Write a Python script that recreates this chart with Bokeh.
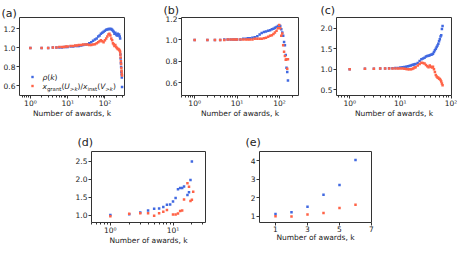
from bokeh.plotting import figure
from bokeh.models import (ColumnDataSource, FixedTicker, Range1d, Label, Title,
                          CustomJSTickFormatter, Legend, LegendItem,
                          NumeralTickFormatter)
from bokeh.layouts import row, column
from bokeh.embed import file_html
from bokeh.resources import INLINE

# ---------------- data ----------------
# panel (a)
k_a = [1, 2, 3, 4, 5, 6, 7, 8, 9, 10, 12, 14, 16, 18, 20, 23, 26, 30, 34, 38,
       43, 48, 54, 60, 66, 72, 78, 85, 92, 100, 108, 116, 124, 132, 140, 148,
       156, 164, 172, 180, 190, 200, 210, 220, 230, 240, 250, 256, 260, 264,
       268, 272, 276, 280, 284, 288]
rho_a = [1.00, 1.00, 1.00, 1.005, 1.005, 1.005, 1.005, 1.01, 1.01, 1.01,
         1.015, 1.015, 1.02, 1.02, 1.02, 1.025, 1.03, 1.035, 1.04, 1.05,
         1.06, 1.075, 1.09, 1.10, 1.12, 1.13, 1.15, 1.16, 1.17, 1.18,
         1.19, 1.195, 1.20, 1.20, 1.20, 1.20, 1.19, 1.18, 1.17, 1.15,
         1.16, 1.14, 1.13, 1.15, 1.13, 1.14, 1.12, 1.10, 0.93, 0.89,
         0.84, 0.80, 0.75, 0.72, 0.69, 0.59]
ratio_a = [1.00, 1.00, 1.00, 1.005, 1.005, 1.01, 1.01, 1.01, 1.015, 1.015,
           1.02, 1.02, 1.025, 1.025, 1.03, 1.03, 1.035, 1.035, 1.035, 1.03,
           1.03, 1.035, 1.04, 1.05, 1.06, 1.07, 1.08, 1.07, 1.06, 1.08,
           1.10, 1.12, 1.14, 1.15, 1.13, 1.10, 1.08, 1.05, 1.04, 1.02,
           1.03, 1.01, 1.00, 0.99, 0.99, 0.98, 0.97, 0.96, 0.93, 0.90,
           0.86, 0.83, 0.79, 0.76, 0.73, 0.71]

# panel (b)
k_b = [1, 2, 3, 4, 5, 6, 7, 8, 9, 10, 12, 14, 16, 18, 20, 23, 26, 30, 34, 38,
       43, 48, 54, 60, 66, 72, 78, 85, 92, 98, 104, 110, 116, 122, 128, 134,
       140, 146, 152, 158]
rho_b = [1.0, 1.0, 1.0, 1.0, 1.005, 1.005, 1.005, 1.005, 1.005, 1.005,
         1.005, 1.01, 1.01, 1.015, 1.015, 1.02, 1.025, 1.035, 1.05, 1.065,
         1.075, 1.08, 1.085, 1.09, 1.10, 1.105, 1.115, 1.12, 1.13, 1.135,
         1.13, 1.10, 1.07, 1.04, 0.98, 0.95, 0.86, 0.74, 0.70, 0.62]
ratio_b = [1.0, 1.0, 1.0, 1.0, 1.0, 1.005, 1.005, 1.005, 1.005, 1.005,
           1.005, 1.005, 1.005, 1.005, 1.005, 1.005, 1.01, 1.01, 1.01, 1.01,
           1.015, 1.02, 1.03, 1.04, 1.045, 1.055, 1.07, 1.085, 1.11, 1.14,
           1.11, 1.04, 1.06, 0.95, 0.89, 0.85, 0.815, 0.82, 0.73, 0.82]

# panel (c)
k_c = [1, 2, 3, 4, 5, 6, 7, 8, 9, 10, 11, 12, 13, 14, 15, 16, 17, 18, 19, 20,
       22, 24, 26, 28, 30, 32, 34, 36, 38, 40, 42, 44, 46, 48, 50, 52, 54, 56,
       58, 60, 62, 64, 66, 68]
rho_c = [1.0, 1.01, 1.01, 1.02, 1.02, 1.025, 1.025, 1.03, 1.03, 1.04,
         1.05, 1.055, 1.06, 1.07, 1.08, 1.09, 1.10, 1.11, 1.12, 1.13,
         1.15, 1.20, 1.24, 1.26, 1.28, 1.31, 1.32, 1.33, 1.34, 1.35,
         1.36, 1.38, 1.42, 1.46, 1.50, 1.54, 1.58, 1.62, 1.68, 1.73,
         1.80, 1.83, 1.98, 2.05]
ratio_c = [1.0, 1.01, 1.01, 1.02, 1.02, 1.02, 1.02, 1.02, 1.02, 1.02,
           1.015, 1.01, 1.005, 1.0, 1.0, 1.0, 1.005, 1.02, 1.04, 1.05,
           1.09, 1.13, 1.16, 1.15, 1.14, 1.10, 1.07, 1.05, 1.09, 1.06,
           1.04, 1.06, 1.0, 0.93, 0.86, 0.82, 0.80, 0.79, 0.77, 0.76,
           0.74, 0.70, 0.65, 0.61]

# panel (d)
k_d_rho = [1, 2, 3, 4, 5, 6, 7, 8, 9, 10, 11, 12, 13, 14, 15, 17, 18, 19, 20]
rho_d = [1.01, 1.03, 1.08, 1.13, 1.18, 1.19, 1.23, 1.29, 1.30, 1.38, 1.48,
         1.72, 1.76, 1.76, 1.80, 1.56, 1.64, 1.98, 2.49]
k_d_ratio = [1, 2, 3, 4, 5, 6, 7, 8, 10, 11, 12, 13, 14, 15, 17, 18, 19, 20, 21]
ratio_d = [0.975, 1.04, 1.06, 1.06, 0.99, 1.06, 1.10, 1.15, 1.02, 1.02, 1.05,
           1.12, 1.13, 1.44, 1.89, 1.79, 1.40, 1.43, 1.65]

# panel (e)
k_e = [1, 2, 3, 4, 5, 6]
rho_e = [1.12, 1.22, 1.52, 2.17, 2.70, 4.05]
ratio_e = [1.00, 0.98, 1.10, 1.17, 1.45, 1.62]

# tick labels / positions
log_major = [1, 10, 100]
yticks_ab = [0.6, 0.8, 1.0, 1.2]
yticks_c = [0.5, 1.0, 1.5, 2.0]
yticks_d = [1.0, 1.5, 2.0, 2.5]
yticks_e = [1, 2, 3, 4]
xticks_e = [1, 3, 5, 7]
xlabel = "Number of awards, k"
panel_names = ["(a)", "(b)", "(c)", "(d)", "(e)"]

# ---------------- styling ----------------
FONT = "DejaVu Sans"
BLUE = "#4169e1"
RED = "#ff6347"
INK = "#222222"
EDGE = "#333333"
FS = 7.5

LOG_FMT = CustomJSTickFormatter(code="""
const sup = {"0":"\u2070","1":"\u00b9","2":"\u00b2","3":"\u00b3","-":"\u207b"};
const e = Math.round(Math.log10(tick));
return "10" + String(e).split("").map(c => sup[c]).join("");
""")
LOG_MINOR = [m * 10.0 ** e for e in range(-1, 3) for m in range(2, 10)]

W = {'x': 0.592, 'g': 0.635, 'r': 0.411, 'a': 0.613, 'n': 0.634, 't': 0.392,
     '(': 0.390, ')': 0.390, 'U': 0.732, '>': 0.838, 'k': 0.579, '/': 0.337,
     'i': 0.278, 's': 0.521, 'V': 0.684, '\u03c1': 0.635}


def canvas_label(p, x, y, text, size, style="normal", align="left"):
    # canvas units: x from the left, y from the top of the figure
    p.add_layout(Label(x=x, y=y, x_units="canvas", y_units="canvas",
                       text=text, text_font=FONT, text_font_size=f"{size}px",
                       text_font_style=style, text_align=align,
                       text_baseline="middle", text_color=INK))


def make_panel(width, height, xr, yr, log_x, xticks, yticks, borders,
               ylabel_fmt, name, name_offset, name_standoff):
    l, r, t, b = borders
    p = figure(width=width, height=height,
               x_axis_type="log" if log_x else "linear",
               x_range=Range1d(*xr), y_range=Range1d(*yr),
               output_backend="svg", toolbar_location=None,
               min_border_left=l, min_border_right=r,
               min_border_top=t, min_border_bottom=b)
    p.grid.visible = False
    p.outline_line_color = EDGE
    p.outline_line_width = 1
    for ax in (p.xaxis[0], p.yaxis[0]):
        ax.axis_line_color = None
        ax.major_tick_line_color = EDGE
        ax.major_tick_in = 0
        ax.major_tick_out = 3
        ax.minor_tick_in = 0
        ax.minor_tick_out = 2
        ax.minor_tick_line_color = EDGE
        ax.major_label_text_font = FONT
        ax.major_label_text_font_size = f"{FS}px"
        ax.major_label_text_color = INK
        ax.major_label_standoff = 0
    p.yaxis.major_label_standoff = 1
    p.yaxis.minor_tick_line_color = None
    if log_x:
        p.xaxis.ticker = FixedTicker(ticks=xticks, minor_ticks=LOG_MINOR)
        p.xaxis.formatter = LOG_FMT
    else:
        p.xaxis.ticker = FixedTicker(ticks=xticks)
        p.xaxis.minor_tick_line_color = None
    p.yaxis.ticker = FixedTicker(ticks=yticks)
    if ylabel_fmt:
        p.yaxis.formatter = NumeralTickFormatter(format=ylabel_fmt)
    p.xaxis.axis_label = xlabel
    p.xaxis.axis_label_text_font = FONT
    p.xaxis.axis_label_text_font_size = f"{FS}px"
    p.xaxis.axis_label_text_font_style = "normal"
    p.xaxis.axis_label_text_color = INK
    p.xaxis.axis_label_standoff = -2
    p.add_layout(Title(text=name, align="left", offset=name_offset,
                       standoff=name_standoff, text_font=FONT,
                       text_font_size="11px", text_font_style="normal",
                       text_color=INK), "above")
    return p


def dots(p, kx, ky, color):
    src = ColumnDataSource(dict(k=kx, v=ky))
    return p.scatter("k", "v", source=src, marker="square", size=2.5,
                     fill_color=color, line_color=None)


def text_run(p, x0, yc, pieces):
    x = x0
    for s, italic, sub in pieces:
        fs = 5.4 if sub else FS
        dy = 2.3 if sub else 0.0
        canvas_label(p, x, yc + dy, s, fs, "italic" if italic else "normal")
        x += sum(W.get(c, 0.6) for c in s) * fs


# ---------------- top row ----------------
H1 = 120
pa = make_panel(160, H1, (0.51, 335), (0.50, 1.32), True, log_major, yticks_ab,
                (18, 36, 8, 24), "0.0", panel_names[0], -18, -4)
rb = dots(pa, k_a, rho_a, BLUE)
rr = dots(pa, k_a, ratio_a, RED)
leg = Legend(items=[LegendItem(label=" ", renderers=[rb]),
                    LegendItem(label=" ", renderers=[rr])],
             location=(10, 5), orientation="vertical", glyph_width=6,
             glyph_height=9, label_height=9, label_width=0, label_standoff=0,
             padding=0, margin=0, spacing=0, border_line_color=None,
             background_fill_alpha=0, label_text_font_size="5px")
pa.add_layout(leg)

pb = make_panel(154, H1, (0.49, 280), (0.48, 1.21), True, log_major, yticks_ab,
                (21, 16, 14, 24), "0.0", panel_names[1], -18, 2)
dots(pb, k_b, rho_b, BLUE)
dots(pb, k_b, ratio_b, RED)

pc = make_panel(143, H1, (0.55, 102), (0.36, 2.26), True, log_major, yticks_c,
                (22, 6, 14, 24), "0.0", panel_names[2], -16, 2)
dots(pc, k_c, rho_c, BLUE)
dots(pc, k_c, ratio_c, RED)

# ---------------- bottom row ----------------
H2 = 127
pd_ = make_panel(232, H2, (0.5, 33), (0.80, 2.77), True, log_major, yticks_d,
                 (91, 27, 31, 16), "0.0", panel_names[3], -14, 6)
dots(pd_, k_d_rho, rho_d, BLUE)
dots(pd_, k_d_ratio, ratio_d, RED)

pe = make_panel(225, H2, (0, 7), (0.66, 4.51), False, xticks_e, yticks_e,
                (27, 86, 31, 16), None, panel_names[4], -14, 6)
dots(pe, k_e, rho_e, BLUE)
dots(pe, k_e, ratio_e, RED)

# legend texts of panel (a), placed relative to panel (a)'s frame
fa_top = 8
text_run(pa, 42, fa_top + 69, [("\u03c1", True, False), ("(", False, False),
                               ("k", True, False), (")", False, False)])
text_run(pa, 42, fa_top + 78, [("x", True, False), ("grant", False, True),
                               ("(", False, False), ("U", True, False),
                               (">", False, True), ("k", True, True),
                               (")/", False, False), ("x", True, False),
                               ("inst", False, True), ("(", False, False),
                               ("V", True, False), (">", False, True),
                               ("k", True, True), (")", False, False)])

layout = column(row(pa, pb, pc), row(pd_, pe))
open("out.html", "w").write(file_html(layout, INLINE))
